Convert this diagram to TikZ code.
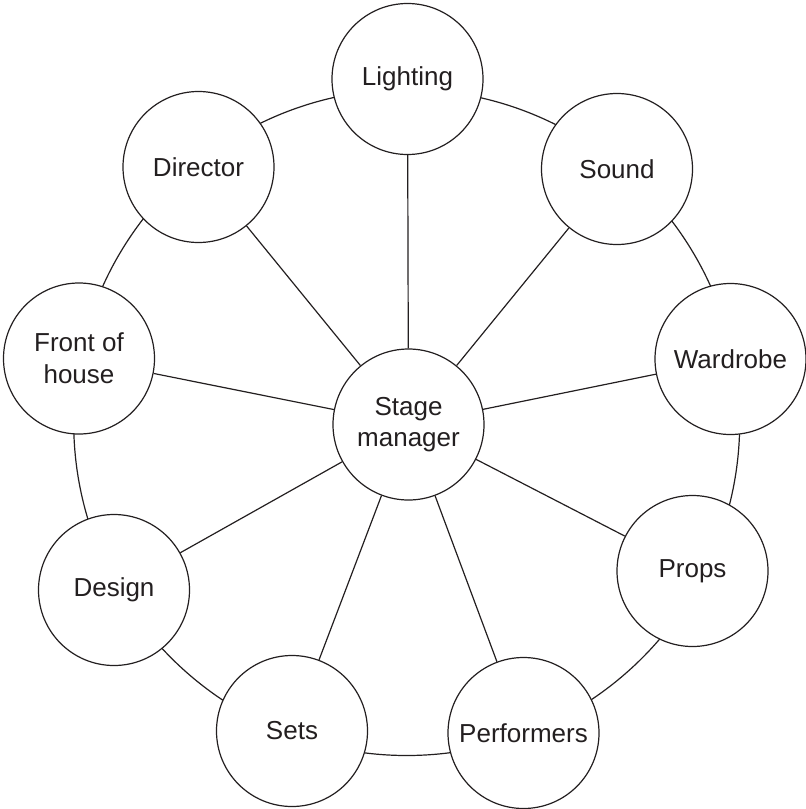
\documentclass[tikz,border=0pt]{standalone}
\usepackage{fontspec}
\setmainfont{Liberation Sans}
\usetikzlibrary{backgrounds}
\definecolor{ink}{RGB}{35,31,32}
\begin{document}
\begin{tikzpicture}[x=1pt,y=-1pt,
  role/.style={circle,draw=ink,fill=white,line width=1.2pt,minimum size=151pt,inner sep=0pt,
    font=\fontsize{26}{31.7}\selectfont,text=ink,align=center},
  link/.style={draw=ink,line width=1.2pt}]
\useasboundingbox (0,0) rectangle (806,809);
\coordinate (rc) at (406.7,422.5);
\node[role] (sm) at (408.5,424.5) {Stage\\manager};
\node[role] (li) at (407.5,79) {Lighting};
\node[role] (so) at (617,169) {Sound};
\node[role] (wa) at (730.5,359) {Wardrobe};
\node[role] (pr) at (692.5,571) {Props};
\node[role] (pe) at (523.5,733) {Performers};
\node[role] (se) at (292,731) {Sets};
\node[role] (de) at (114,590) {Design};
\node[role] (fo) at (79,358.5) {Front of\\house};
\node[role] (di) at (198.5,167) {Director};
\foreach \n in {li,so,wa,pr,pe,se,de,fo,di} {\draw[link] (sm) -- (\n);}
\begin{pgfonlayer}{background}
\draw[link] (rc) circle[radius=333];
\end{pgfonlayer}
\end{tikzpicture}
\end{document}
